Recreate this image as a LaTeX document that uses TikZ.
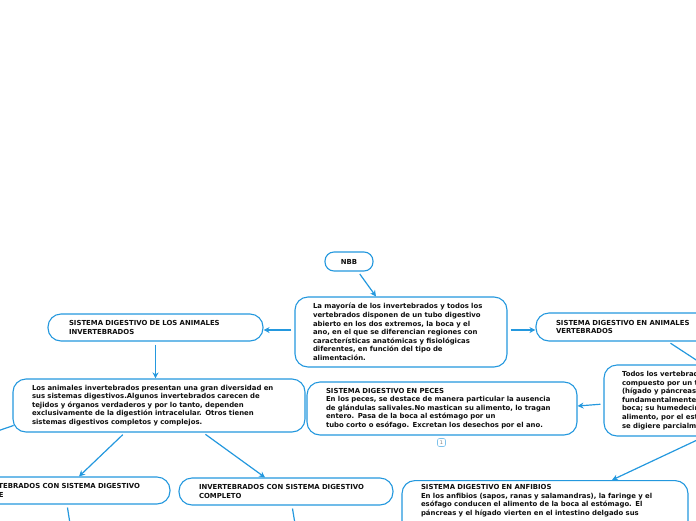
\documentclass[tikz,border=0pt]{standalone}
\usepackage{fontspec}
\setmainfont{DejaVu Sans}
\usetikzlibrary{arrows.meta,calc}
\definecolor{mmblue}{RGB}{36,152,222}
\definecolor{txt}{RGB}{15,15,15}
\tikzset{
  box/.style={draw=mmblue, line width=1.1pt, fill=white, rounded corners=13pt,
    align=left, font=\fontsize{6.9}{8.6}\selectfont\bfseries, text=txt,
    inner ysep=0pt, anchor=center},
  conn/.style={draw=mmblue, line width=1.2pt, shorten <=3pt,
    -{Stealth[length=6pt,width=6pt]}},
  plainline/.style={draw=mmblue, line width=1.2pt, shorten <=3pt},
  marker/.style={draw=mmblue!60, line width=0.6pt, rounded corners=2pt,
    minimum width=8pt, minimum height=8pt, inner sep=0pt,
    font=\fontsize{5}{5}\selectfont, text=gray}
}
\begin{document}
\begin{tikzpicture}[x=1pt,y=-1pt]
\useasboundingbox (0,0) rectangle (696,520);

\node[box, rounded corners=9pt, minimum width=48pt, minimum height=19pt, align=center, inner xsep=0pt] (nbb) at (349,261.5) {NBB};

\node[box, minimum width=212pt, minimum height=70pt, inner xsep=18pt, text width=176pt] (main) at (401,332)
{La mayoría de los invertebrados y todos los\\
vertebrados disponen de un tubo digestivo\\
abierto en los dos extremos, la boca y el\\
ano, en el que se diferencian regiones con\\
características anatómicas y fisiológicas\\
diferentes, en función del tipo de\\
alimentación.};

\node[box, minimum width=215pt, minimum height=27pt, inner xsep=21pt, text width=173pt] (linv) at (155.5,327.5)
{SISTEMA DIGESTIVO DE LOS ANIMALES\\ INVERTEBRADOS};

\node[box, minimum width=215pt, minimum height=28pt, inner xsep=20pt, text width=175pt] (rvert) at (643.5,327)
{SISTEMA DIGESTIVO EN ANIMALES\\ VERTEBRADOS};

\node[box, minimum width=292pt, minimum height=53pt, inner xsep=19pt, text width=254pt] (idesc) at (159,405.5)
{Los animales invertebrados presentan una gran diversidad en\\
sus sistemas digestivos.Algunos invertebrados carecen de\\
tejidos y órganos verdaderos y por lo tanto, dependen\\
exclusivamente de la digestión intracelular. Otros tienen\\
sistemas digestivos completos y complejos.};

\node[box, minimum width=270pt, minimum height=53pt, inner xsep=19pt, text width=232pt] (peces) at (442,408.5)
{SISTEMA DIGESTIVO EN PECES\\
En los peces, se destace de manera particular la ausencia\\
de glándulas salivales.No mastican su alimento, lo tragan\\
entero. Pasa de la boca al estómago por un\\
tubo corto o esófago. Excretan los desechos por el ano.};

\node[marker] (m1) at (441.5,442.5) {1};

\node[box, minimum width=250pt, minimum height=71pt, inner xsep=18pt, text width=214pt] (vdesc) at (729,400.5)
{Todos los vertebrados\\
compuesto por un tubo\\
(hígado y páncreas)\\
fundamentalmente\\
boca; su humedecimiento\\
alimento, por el estómago\\
se digiere parcialmente};

\node[box, minimum width=215pt, minimum height=27pt, inner xsep=20pt, text width=175pt] (iinc) at (62.5,490.5)
{INVERTEBRADOS CON SISTEMA DIGESTIVO\\ SIMPLE};

\node[box, minimum width=214pt, minimum height=27pt, inner xsep=20pt, text width=174pt] (icomp) at (286,491.5)
{INVERTEBRADOS CON SISTEMA DIGESTIVO\\ COMPLETO};

\node[box, anchor=north, minimum width=286pt, inner xsep=19pt, inner ysep=4pt, text width=248pt, text depth=40pt] (anf) at (545,480)
{SISTEMA DIGESTIVO EN ANFIBIOS\\
En los anfibios (sapos, ranas y salamandras), la faringe y el\\
esófago conducen el alimento de la boca al estómago. El\\
páncreas y el hígado vierten en el intestino delgado sus};

\coordinate (offL) at (-20,437);
\coordinate (offA) at (71,530);
\coordinate (offB) at (296,530);

\draw[conn] ([xshift=9pt]nbb.south) -- ([xshift=-25pt]main.north);
\draw[conn] ([yshift=2pt]main.west) -- ([yshift=2pt]main.west -| linv.east);
\draw[conn] ([yshift=2pt]main.east) -- ([yshift=2pt]main.east -| rvert.west);
\draw[conn] (linv.south) -- (linv.south |- idesc.north);
\draw[conn] ([xshift=24.5pt]rvert.south) -- ([xshift=-26pt]vdesc.north);
\draw[conn] ([yshift=-3.5pt]vdesc.west) -- ([yshift=2.5pt]peces.east);
\draw[conn] ([xshift=-24.5pt]vdesc.south) -- ([xshift=67pt]anf.north);
\draw[conn] ([xshift=-34pt]idesc.south) -- ([xshift=16.5pt]iinc.north);
\draw[conn] ([xshift=44pt]idesc.south) -- ([xshift=-21pt]icomp.north);
\draw[plainline] ([xshift=4.5pt]iinc.south) -- (offA);
\draw[plainline] ([xshift=6pt]icomp.south) -- (offB);
\draw[plainline] ([shift={(4pt,-19pt)}]idesc.west) -- (offL);
\end{tikzpicture}
\end{document}
